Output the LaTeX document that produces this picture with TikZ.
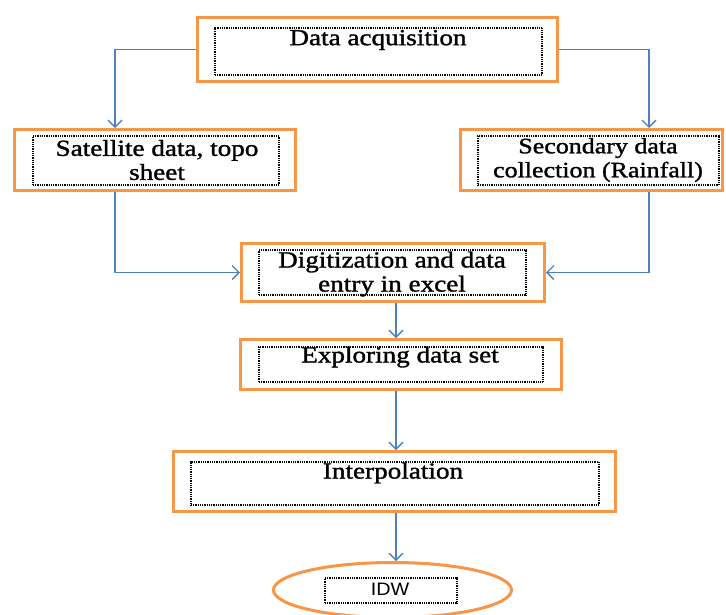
\documentclass[tikz,border=0pt]{standalone}
\usepackage{fontspec}
\setmainfont{Liberation Serif}[FakeStretch=1.18, FakeBold=1.4]
\newfontfamily\idwfont{Liberation Sans}[FakeStretch=1.1]
\usetikzlibrary{arrows.meta,shapes.geometric}
\definecolor{boxorange}{HTML}{F79646}
\definecolor{arrblue}{HTML}{4F81BD}
\begin{document}
\begin{tikzpicture}[x=1pt,y=-1pt,
  outer/.style={draw=boxorange, line width=3pt, rectangle, inner sep=0pt, fill=white},
  innerbox/.style={draw=black, line width=1.1pt, dash pattern=on 1pt off 0.8pt, rectangle, inner sep=0pt},
  txt/.style={font=\fontsize{23}{24}\selectfont, align=center, inner sep=0pt, text=black},
  arr/.style={draw=arrblue, line width=1.3pt, -{Straight Barb[length=7pt,width=14pt]}}]
\useasboundingbox (0,0) rectangle (726,614);
% outer boxes
\node[outer, minimum width=360pt, minimum height=64pt] (acq) at (377.5,49.5) {};
\node[outer, minimum width=281pt, minimum height=61pt] (sat) at (155,160) {};
\node[outer, minimum width=262pt, minimum height=61pt] (sec) at (591.5,160) {};
\node[outer, minimum width=303pt, minimum height=58pt] (dig) at (393,272.5) {};
\node[outer, minimum width=321pt, minimum height=50pt] (exp) at (401,364.5) {};
\node[outer, minimum width=442pt, minimum height=60pt] (int) at (394.5,481.5) {};
\node[outer, ellipse, minimum width=238pt, minimum height=55pt] (idw) at (392.5,590) {};
% inner dotted boxes
\node[innerbox, minimum width=327pt, minimum height=47pt] (acqin) at (378.5,51.5) {};
\node[innerbox, minimum width=246pt, minimum height=49pt] (satin) at (156,160.5) {};
\node[innerbox, minimum width=241pt, minimum height=49pt] (secin) at (598.5,160.5) {};
\node[innerbox, minimum width=267pt, minimum height=45pt] (digin) at (392.5,272.5) {};
\node[innerbox, minimum width=284pt, minimum height=35pt] (expin) at (401,364.5) {};
\node[innerbox, minimum width=408pt, minimum height=43pt] (intin) at (395,483.5) {};
\node[innerbox, minimum width=132pt, minimum height=25pt] (idwin) at (391,590.5) {};
% texts
\node[txt] (acqt) at (378,40) {Data acquisition};
\node[txt] (satt) at (157,160) {Satellite data, topo\\sheet};
\node[txt, font=\fontsize{22}{24}\selectfont] (sect) at (598,160) {Secondary data\\collection (Rainfall)};
\node[txt] (digt) at (392,274) {Digitization and data\\entry in excel};
\node[txt] (expt) at (400,357) {Exploring data set};
\node[txt] (intt) at (393,473) {Interpolation};
\node[txt, font=\idwfont\fontsize{18}{20}\selectfont] (idwt) at (390,589) {IDW};
% connectors
\draw[arr] (acq.west) -| ([xshift=-40pt]sat.north);
\draw[arr] (acq.east) -| ([xshift=57.5pt]sec.north);
\draw[arr] ([xshift=-40pt]sat.south) |- (dig.west);
\draw[arr] ([xshift=57.5pt]sec.south) |- (dig.east);
\draw[arr] ([xshift=3pt]dig.south) -- ([xshift=3pt]dig.south |- exp.north);
\draw[arr] ([xshift=-5pt]exp.south) -- ([xshift=-5pt]exp.south |- int.north);
\draw[arr] ([xshift=1.5pt]int.south) -- ([xshift=1.5pt]int.south |- idw.north);
\end{tikzpicture}
\end{document}
